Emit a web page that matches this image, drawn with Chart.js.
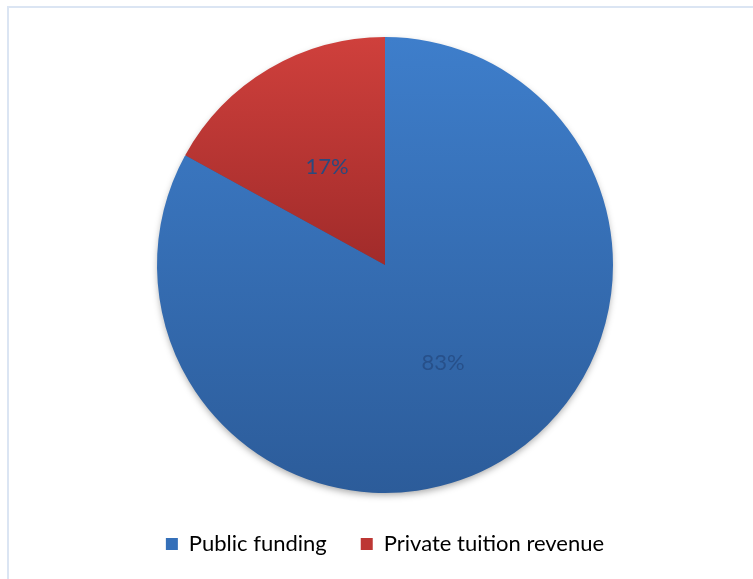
<!DOCTYPE html>
<html>
<head>
<meta charset="utf-8">
<script src="https://cdn.jsdelivr.net/npm/chart.js@4.4.1/dist/chart.umd.min.js"></script>
<style>
  html, body { margin: 0; padding: 0; background: #fff; overflow: hidden; }
  #wrap { position: relative; width: 753px; height: 579px; }
  #frame { position: absolute; left: 7px; top: 6px; width: 900px; height: 700px; border: 2px solid #dbe5f3; box-sizing: border-box; }
  #wrap canvas { position: absolute; left: 0; top: 0; }
</style>
</head>
<body>
<div id="wrap">
  <div id="frame"></div>
  <canvas id="pie" width="753" height="579"></canvas>
</div>
<script>
const categories = ['Public funding', 'Private tuition revenue'];
const shares = [83, 17];
const topColors = ['#3e7ecb', '#cf403c'];
const bottomColors = ['#2c5c9a', '#a12b2a'];
const legendColors = ['#3570b9', '#bd3734'];

const RADIUS = 228;

// vertical gradient stretched over the slice's own top/bottom
function sliceGradient(context) {
  const chart = context.chart;
  const area = chart.chartArea;
  const i = context.dataIndex;
  if (!area) return legendColors[i];
  const cx = (area.left + area.right) / 2;
  const cy = (area.top + area.bottom) / 2;
  const total = shares.reduce((a, b) => a + b, 0);
  let start = -Math.PI / 2;
  for (let k = 0; k < i; k++) start += shares[k] / total * Math.PI * 2;
  const end = start + shares[i] / total * Math.PI * 2;
  let minY = cy, maxY = cy;
  for (let s = 0; s <= 90; s++) {
    const a = start + (end - start) * s / 90;
    const y = cy + Math.sin(a) * RADIUS;
    minY = Math.min(minY, y);
    maxY = Math.max(maxY, y);
  }
  const g = chart.ctx.createLinearGradient(0, minY, 0, maxY);
  g.addColorStop(0, topColors[i]);
  g.addColorStop(1, bottomColors[i]);
  return g;
}

// soft shadow under the whole disc
const pieShadow = {
  id: 'pieShadow',
  beforeDatasetsDraw(chart) {
    const arc = chart.getDatasetMeta(0).data[0];
    if (!arc) return;
    const ctx = chart.ctx;
    ctx.save();
    ctx.shadowColor = 'rgba(0,0,0,0.35)';
    ctx.shadowBlur = 7;
    ctx.shadowOffsetY = 3;
    ctx.fillStyle = bottomColors[0];
    ctx.beginPath();
    ctx.arc(arc.x, arc.y, arc.outerRadius - 1, 0, Math.PI * 2);
    ctx.fill();
    ctx.restore();
  }
};

// percentage labels in the middle of each slice
const sliceLabels = {
  id: 'sliceLabels',
  afterDatasetsDraw(chart) {
    const ctx = chart.ctx;
    ctx.save();
    ctx.font = '22px Lato, "Open Sans", sans-serif';
    ctx.textAlign = 'center';
    ctx.textBaseline = 'middle';
    chart.getDatasetMeta(0).data.forEach((arc, i) => {
      const p = arc.tooltipPosition();
      ctx.fillStyle = i === 0 ? '#27508a' : '#2a4a7e';
      ctx.fillText(shares[i] + '%', p.x, p.y);
    });
    ctx.restore();
  }
};

new Chart(document.getElementById('pie'), {
  type: 'pie',
  data: {
    labels: categories,
    datasets: [{
      data: shares,
      backgroundColor: sliceGradient,
      borderWidth: 0,
      radius: RADIUS
    }]
  },
  options: {
    responsive: false,
    animation: false,
    layout: { padding: { left: 17, right: 0, top: 31, bottom: 14 } },
    plugins: {
      tooltip: { enabled: false },
      legend: {
        position: 'bottom',
        labels: {
          boxWidth: 12,
          boxHeight: 12,
          padding: 34,
          color: '#284c80',
          font: { family: 'Lato, "Open Sans", sans-serif', size: 22 },
          generateLabels: (chart) => categories.map((c, i) => ({
            text: c,
            fillStyle: legendColors[i],
            strokeStyle: legendColors[i],
            lineWidth: 0,
            index: i
          }))
        }
      }
    }
  },
  plugins: [pieShadow, sliceLabels]
});
</script>
</body>
</html>
